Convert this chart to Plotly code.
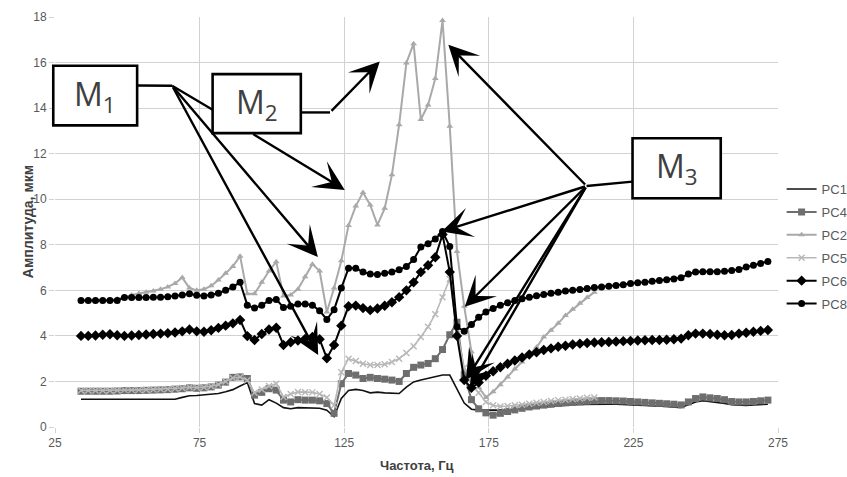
import plotly.graph_objects as go

# ---------------- data ----------------
freq = [34, 36.5, 39, 41.5, 44, 46.5, 49, 51.5, 54, 56.5,
        59, 61.5, 64, 66.5, 69, 71.5, 74, 76.5, 79, 81.5,
        84, 86.5, 89, 91.5, 94, 96.5, 99, 101.5, 104, 106.5,
        109, 111.5, 114, 116.5, 119, 121.5, 124, 126.5, 129, 131.5,
        134, 136.5, 139, 141.5, 144, 146.5, 149, 151.5, 154, 156.5,
        159, 161.5, 164, 166.5, 169, 171.5, 174, 176.5, 179, 181.5,
        184, 186.5, 189, 191.5, 194, 196.5, 199, 201.5, 204, 206.5,
        209, 211.5, 214, 216.5, 219, 221.5, 224, 226.5, 229, 231.5,
        234, 236.5, 239, 241.5, 244, 246.5, 249, 251.5, 254, 256.5,
        259, 261.5, 264, 266.5, 269, 271.5]

pc1 = [1.22, 1.22, 1.22, 1.22, 1.22, 1.22, 1.22, 1.22, 1.22, 1.22,
       1.22, 1.22, 1.22, 1.22, 1.30, 1.37, 1.38, 1.40, 1.42, 1.47,
       1.55, 1.64, 1.80, 1.95, 1.03, 0.96, 1.20, 1.05, 0.85, 0.80,
       0.85, 0.84, 0.85, 0.82, 0.74, 0.45, 1.25, 1.60, 1.65, 1.60,
       1.50, 1.53, 1.50, 1.47, 1.47, 1.75, 1.98, 2.06, 2.13, 2.20,
       2.28, 2.28, 1.65, 1.05, 0.78, 0.74, 0.74, 0.74, 0.72, 0.74,
       0.77, 0.80, 0.83, 0.86, 0.89, 0.92, 0.94, 0.96, 0.98, 0.99,
       1.00, 1.00, 1.00, 1.00, 1.00, 0.99, 0.98, 0.97, 0.96, 0.95,
       0.93, 0.90, 0.87, 0.86, 0.98, 1.10, 1.15, 1.12, 1.08, 1.03,
       0.98, 0.95, 0.95, 0.97, 0.98, 1.00]

pc4 = [1.57, 1.57, 1.57, 1.57, 1.57, 1.58, 1.60, 1.60, 1.60, 1.61,
       1.62, 1.63, 1.64, 1.66, 1.68, 1.72, 1.70, 1.72, 1.76, 1.84,
       1.97, 2.18, 2.20, 2.13, 1.40, 1.52, 1.68, 1.62, 1.18, 1.10,
       1.20, 1.18, 1.18, 1.15, 1.03, 0.60, 1.90, 2.35, 2.28, 2.13,
       2.18, 2.13, 2.10, 2.06, 2.00, 2.35, 2.62, 2.72, 2.79, 3.00,
       3.40, 4.05, 4.60, 2.30, 1.20, 0.80, 0.62, 0.52, 0.60, 0.68,
       0.75, 0.82, 0.88, 0.92, 0.96, 1.00, 1.03, 1.06, 1.08, 1.10,
       1.13, 1.15, 1.16, 1.16, 1.15, 1.14, 1.12, 1.10, 1.08, 1.06,
       1.04, 1.02, 1.00, 0.97, 1.10, 1.25, 1.32, 1.28, 1.25, 1.20,
       1.12, 1.10, 1.10, 1.12, 1.15, 1.18]

pc2 = [5.55, 5.55, 5.56, 5.57, 5.58, 5.62, 5.72, 5.80, 5.86, 5.92,
       5.97, 6.05, 6.15, 6.30, 6.56, 6.10, 6.00, 6.05, 6.20, 6.45,
       6.75, 7.05, 7.50, 5.85, 5.85, 6.35, 6.85, 7.25, 5.75, 5.80,
       6.05, 6.60, 7.15, 6.85, 5.05, 6.10, 7.30, 8.85, 9.70, 10.30,
       9.75, 8.87, 9.60, 11.07, 13.27, 15.98, 16.83, 13.50, 14.14, 15.30,
       17.85, 13.20, 7.70, 5.30, 3.30, 1.75, 1.30, 1.55, 1.86, 2.20,
       2.55, 2.85, 3.17, 3.50, 3.95, 4.25, 4.55, 4.90, 5.17, 5.43,
       5.68, 5.92]

pc5 = [1.60, 1.60, 1.60, 1.60, 1.60, 1.61, 1.63, 1.63, 1.63, 1.64,
       1.65, 1.66, 1.67, 1.69, 1.71, 1.75, 1.73, 1.75, 1.79, 1.87,
       2.00, 2.15, 2.20, 2.05, 1.50, 1.65, 1.80, 1.90, 1.32, 1.45,
       1.54, 1.53, 1.52, 1.45, 1.30, 0.95, 2.40, 3.00, 2.90, 2.78,
       2.72, 2.72, 2.75, 2.85, 3.00, 3.25, 3.55, 3.95, 4.40, 4.95,
       5.70, 6.50, 4.20, 2.60, 1.90, 1.50, 1.10, 0.95, 0.90, 0.92,
       0.95, 0.98, 1.02, 1.06, 1.10, 1.14, 1.18, 1.20, 1.23, 1.25,
       1.28, 1.30]

pc6 = [4.00, 4.00, 4.02, 4.05, 4.07, 4.03, 4.00, 4.02, 4.04, 4.06,
       4.08, 4.10, 4.12, 4.15, 4.20, 4.28, 4.20, 4.18, 4.25, 4.35,
       4.45, 4.55, 4.70, 3.99, 3.82, 4.08, 4.28, 4.36, 3.60, 3.72,
       3.80, 3.87, 3.95, 3.85, 3.02, 3.60, 4.45, 5.30, 5.33, 5.22,
       5.13, 5.20, 5.32, 5.48, 5.70, 6.00, 6.35, 6.80, 7.10, 7.45,
       8.45, 6.80, 4.00, 2.06, 1.72, 1.95, 2.25, 2.45, 2.62, 2.78,
       2.92, 3.05, 3.18, 3.28, 3.38, 3.45, 3.52, 3.57, 3.62, 3.66,
       3.69, 3.71, 3.72, 3.73, 3.75, 3.77, 3.78, 3.80, 3.81, 3.82,
       3.82, 3.83, 3.85, 3.88, 4.03, 4.10, 4.10, 4.08, 4.05, 4.03,
       4.04, 4.10, 4.14, 4.18, 4.22, 4.26]

pc8 = [5.55, 5.55, 5.55, 5.55, 5.55, 5.55, 5.68, 5.68, 5.68, 5.68,
       5.70, 5.70, 5.72, 5.75, 5.80, 5.85, 5.78, 5.75, 5.80, 5.87,
       6.00, 6.15, 6.35, 5.35, 5.22, 5.35, 5.55, 5.60, 5.25, 5.30,
       5.40, 5.40, 5.35, 5.10, 4.72, 5.15, 6.10, 6.97, 6.97, 6.80,
       6.72, 6.70, 6.75, 6.80, 6.90, 7.05, 7.35, 7.90, 8.05, 8.25,
       8.58, 7.92, 4.40, 4.20, 4.50, 4.82, 5.05, 5.20, 5.35, 5.45,
       5.55, 5.63, 5.70, 5.76, 5.82, 5.87, 5.92, 5.97, 6.00, 6.04,
       6.08, 6.12, 6.15, 6.18, 6.21, 6.25, 6.30, 6.33, 6.36, 6.40,
       6.43, 6.47, 6.50, 6.55, 6.72, 6.80, 6.82, 6.82, 6.82, 6.84,
       6.87, 6.92, 7.02, 7.10, 7.18, 7.27]

x_ticks = [25, 75, 125, 175, 225, 275]
y_ticks = [0, 2, 4, 6, 8, 10, 12, 14, 16, 18]

# ---------------- figure ----------------
FONT = "Liberation Sans Narrow, Liberation Sans, Arial, sans-serif"
fig = go.Figure()

fig.add_trace(go.Scatter(x=freq, y=pc1, name="PC1", mode="lines",
                         line=dict(color="#111111", width=1.6)))
fig.add_trace(go.Scatter(x=freq, y=pc4, name="PC4", mode="lines+markers",
                         line=dict(color="#6e6e6e", width=2),
                         marker=dict(symbol="square", size=7, color="#6e6e6e")))
fig.add_trace(go.Scatter(x=freq[:len(pc2)], y=pc2, name="PC2", mode="lines+markers",
                         line=dict(color="#a9a9a9", width=2),
                         marker=dict(symbol="triangle-up", size=6, color="#a9a9a9")))
fig.add_trace(go.Scatter(x=freq[:len(pc5)], y=pc5, name="PC5", mode="lines+markers",
                         line=dict(color="#b8b8b8", width=1.6),
                         marker=dict(symbol="x-thin-open", size=6, color="#b8b8b8",
                                     line=dict(width=1.4, color="#b8b8b8"))))
fig.add_trace(go.Scatter(x=freq, y=pc6, name="PC6", mode="lines+markers",
                         line=dict(color="#000000", width=2),
                         marker=dict(symbol="diamond", size=8, color="#000000")))
fig.add_trace(go.Scatter(x=freq, y=pc8, name="PC8", mode="lines+markers",
                         line=dict(color="#000000", width=2),
                         marker=dict(symbol="circle", size=7, color="#000000")))

GRID = "#d2d2d2"
fig.update_layout(
    width=847, height=477,
    margin=dict(l=55, r=69, t=17, b=50, autoexpand=False),
    paper_bgcolor="white", plot_bgcolor="white",
    font=dict(family=FONT, size=12, color="#595959"),
    showlegend=True,
    legend=dict(x=1.005, xanchor="left", y=0.44, yanchor="middle",
                font=dict(family=FONT, size=13, color="#595959"),
                bgcolor="rgba(0,0,0,0)", tracegroupgap=3),
    xaxis=dict(range=[25, 275], tickvals=x_ticks, showgrid=True, gridcolor=GRID,
               gridwidth=1, zeroline=False, showline=False, ticks="outside",
               ticklen=5, tickcolor=GRID, automargin=False,
               tickfont=dict(size=12, color="#595959")),
    yaxis=dict(range=[0, 18], tickvals=y_ticks, showgrid=True, gridcolor=GRID,
               gridwidth=1, zeroline=False, showline=False, ticks="outside",
               ticklen=5, tickcolor=GRID, automargin=False,
               tickfont=dict(size=12, color="#595959")),
)
for i, tr in enumerate(fig.data):
    tr.legendgroup = "g%d" % i

# axis titles
fig.add_annotation(text="<b>Частота, Гц</b>", xref="paper", yref="paper",
                   x=0.5, y=-0.093, yanchor="middle", showarrow=False,
                   font=dict(family=FONT, size=13, color="#404040"))
fig.add_annotation(text="<b>Амплитуда, мкм</b>", xref="paper", yref="paper",
                   x=-0.051, y=0.5, textangle=-90, showarrow=False,
                   font=dict(family=FONT, size=14, color="#404040"))


def xp(f):
    """frequency -> paper x (so shapes are not clipped at the plot edge)"""
    return (f - 25) / 250.0


LINE = dict(color="black", width=2.4)


def seg(f0, a0, f1, a1):
    fig.add_shape(type="line", xref="paper", yref="y", x0=xp(f0), y0=a0,
                  x1=xp(f1), y1=a1, line=LINE, layer="above")


def arrow(tail, tip):
    fig.add_annotation(x=tip[0], y=tip[1], ax=tail[0], ay=tail[1],
                       xref="x", yref="y", axref="x", ayref="y", text="",
                       showarrow=True, arrowhead=3, arrowsize=2.1,
                       arrowwidth=2.4, arrowcolor="black", standoff=0)


def box(f0, a0, f1, a1, label, sub):
    fig.add_shape(type="rect", xref="paper", yref="y", x0=xp(f0), y0=a0,
                  x1=xp(f1), y1=a1, line=dict(color="black", width=2.6),
                  fillcolor="white", layer="above")
    fig.add_annotation(text=label + "<sub>" + sub + "</sub>", xref="x", yref="y",
                       x=(f0 + f1) / 2, y=(a0 + a1) / 2, showarrow=False,
                       font=dict(family="Open Sans, Noto Sans, sans-serif",
                                 size=32, color="#404040"))


# M1
j1 = (65.5, 14.98)
seg(53.4, 14.99, j1[0], j1[1])
seg(j1[0], j1[1], 79.5, 13.93)
arrow(j1, (115.9, 7.46))
arrow(j1, (116.0, 3.16))
box(24.4, 15.86, 53.4, 13.24, "M", "1")

# M2
seg(110.0, 13.81, 120.1, 13.81)
arrow((120.1, 13.81), (137.3, 16.05))
arrow((93.0, 12.9), (125.2, 10.41))
box(79.5, 15.49, 110.0, 12.9, "M", "2")

# M3
j3 = (208.8, 10.58)
seg(224.7, 10.77, j3[0], j3[1])
arrow(j3, (161.0, 16.78))
arrow(j3, (158.7, 8.58))
arrow(j3, (166.7, 5.28))
arrow(j3, (167.1, 2.06))
arrow(j3, (168.5, 1.75))
box(224.7, 12.68, 255.2, 10.04, "M", "3")

fig.write_html("out.html",
               config={"displayModeBar": False},
               post_script="document.body.style.margin='0px';"
                           "document.body.style.overflow='hidden';")
